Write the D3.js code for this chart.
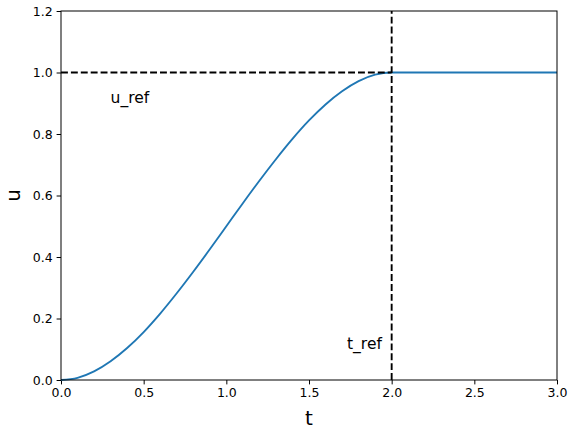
<!DOCTYPE html>
<html><head><meta charset="utf-8">
<script src="https://cdn.jsdelivr.net/npm/d3@7"></script>
<style>body{margin:0;background:#fff}svg{display:block}text{font-family:"DejaVu Sans",sans-serif;fill:#000}</style>
</head><body><svg id="c" width="576" height="433"></svg>
<script>
const tValues = [0,0.1,0.2,0.3,0.4,0.5,0.6,0.7,0.8,0.9,1.0,1.1,1.2,1.3,1.4,1.5,1.6,1.7,1.8,1.9,2.0,2.5,3.0];
const uValues = [0,0.007,0.028,0.061,0.104,0.156,0.216,0.282,0.352,0.425,0.5,0.575,0.648,0.718,0.784,0.844,0.896,0.939,0.972,0.993,1.0,1.0,1.0];
const xTicks = [0,0.5,1.0,1.5,2.0,2.5,3.0];
const yTicks = [0,0.2,0.4,0.6,0.8,1.0,1.2];
const tRef = 2.0, uRef = 1.0;
const annotations = [{text:"u_ref", x:0.3, y:0.9},{text:"t_ref", x:1.73, y:0.1}];

const svg = d3.select("#c");
const m = {l:61, t:11, r:557, b:380};
const x = d3.scaleLinear().domain([0,3]).range([m.l,m.r]);
const y = d3.scaleLinear().domain([0,1.2]).range([m.b,m.t]);

const xa = svg.append("g").attr("transform",`translate(0,${m.b})`)
  .call(d3.axisBottom(x).tickValues(xTicks).tickFormat(d3.format(".1f")).tickSizeOuter(0).tickSize(4.4).tickPadding(4));
const ya = svg.append("g").attr("transform",`translate(${m.l},0)`)
  .call(d3.axisLeft(y).tickValues(yTicks).tickFormat(d3.format(".1f")).tickSizeOuter(0).tickSize(4.4).tickPadding(4));
[xa,ya].forEach(a=>{a.selectAll("text").style("font-size","12.5px").style("font-family","DejaVu Sans").attr("fill","#000");
  a.selectAll("line").attr("stroke","#000").attr("stroke-width",1);a.select(".domain").remove();});

const line = d3.line().x((d,i)=>x(tValues[i])).y(d=>y(d)).curve(d3.curveMonotoneX);
svg.append("path").datum(uValues).attr("d",line).attr("fill","none").attr("stroke","#1f77b4").attr("stroke-width",1.875);

svg.append("line").attr("x1",x(0)).attr("x2",x(tRef)).attr("y1",y(uRef)).attr("y2",y(uRef))
  .attr("stroke","#000").attr("stroke-width",1.875).attr("stroke-dasharray","6.9,3");
svg.append("line").attr("x1",x(tRef)).attr("x2",x(tRef)).attr("y1",y(0)).attr("y2",y(1.2))
  .attr("stroke","#000").attr("stroke-width",1.875).attr("stroke-dasharray","6.9,3");

svg.append("rect").attr("x",m.l).attr("y",m.t).attr("width",m.r-m.l).attr("height",m.b-m.t)
  .attr("fill","none").attr("stroke","#000").attr("stroke-width",1);

annotations.forEach(a=>svg.append("text").attr("x",x(a.x)).attr("y",y(a.y)).style("font-size","15.5px").text(a.text));

svg.append("text").attr("x",(m.l+m.r)/2).attr("y",425).attr("text-anchor","middle").style("font-size","20px").text("t");
svg.append("text").attr("transform",`translate(20,${(m.t+m.b)/2}) rotate(-90)`).attr("text-anchor","middle").style("font-size","20px").text("u");
</script></body></html>
